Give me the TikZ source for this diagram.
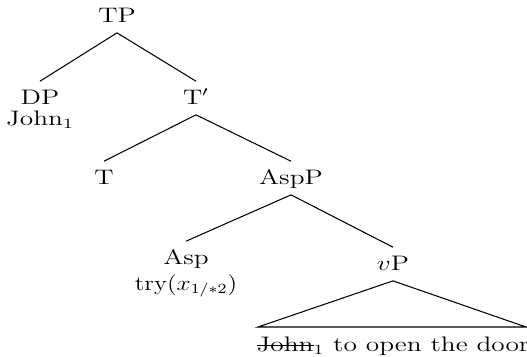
\documentclass[tikz,border=0pt]{standalone}
% labels are set a little wider than normal
\newcommand\wide[1]{\scalebox{1.3}[1]{#1}}
% struck-through word
\newcommand\strk[1]{\setbox0\hbox{#1}\rlap{\rule[0.6ex]{\wd0}{0.4pt}}\box0}
\begin{document}
\begin{tikzpicture}[x=0.5714pt,y=-0.5714pt,
  every node/.style={font=\fontsize{12}{14.4}\selectfont},
  lab/.style={anchor=base, inner xsep=0pt, inner ysep=6pt,
              text height=1.585ex, text depth=0pt},
  word/.style={anchor=base, inner sep=0pt},
  branch/.style={line width=0.6pt}]
\useasboundingbox (0,0) rectangle (527,356);

% labels
\node[lab] (TP)   at (117,22)  {\wide{TP}};
\node[lab] (DP)   at (40,104)  {\wide{DP}};
\node[word] (DPw) at (40,125)  {\wide{John$_1$}};
\node[lab] (Tb)   at (196,104) {\wide{T$'$}};
\node[lab] (T)    at (104,184) {\wide{T}};
\node[lab] (AspP) at (291,184) {\wide{AspP}};
\node[lab] (Asp)  at (186,264) {\wide{Asp}};
\node[word] (Aspw) at (186,290) {\scalebox{1.2}[1]{try($x_{1/*2}$)}};
\node[lab] (vP)   at (393,270) {\wide{$v$P}};
\node[word] (vPw) at (393,351) {\wide{\strk{John}$_1$ to open the door}};

% branches
\draw[branch] (TP.south) -- (DP.north);
\draw[branch] (TP.south) -- (Tb.north);
\draw[branch] (Tb.south) -- (T.north);
\draw[branch] (Tb.south) -- (AspP.north);
\draw[branch] (AspP.south) -- (Asp.north);
\draw[branch] (AspP.south) -- (vP.north);

% roof over the vP string
\coordinate (rl) at (258,327);
\coordinate (rr) at (526,327);
\draw[branch] (vP.south) -- (rl) -- (rr) -- cycle;
\end{tikzpicture}
\end{document}
